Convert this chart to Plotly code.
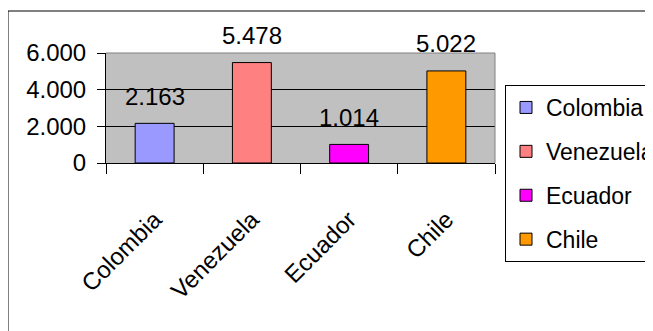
import plotly.graph_objects as go

countries = ["Colombia", "Venezuela", "Ecuador", "Chile"]
values = [2163, 5478, 1014, 5022]
colors = ["#9999FF", "#FF8080", "#FF00FF", "#FF9900"]
y_ticks = [0, 2000, 4000, 6000]

OFF = 8  # default page body margin
W, H = 653 - OFF, 331 - OFF
L, R, T, B = 106 - OFF, 495 - OFF, 53 - OFF, 163 - OFF   # plot area in px (figure coords)
pw, ph = R - L, B - T

def px_x(x):
    return (x - OFF - L) / pw

def px_y(y):
    return (B - (y - OFF)) / ph

FONT = "Liberation Sans, Arial, sans-serif"

fig = go.Figure()
for c, v, col in zip(countries, values, colors):
    fig.add_trace(go.Bar(
        x=[c], y=[v], name=c, width=0.4,
        marker=dict(color=col, line=dict(color="#000000", width=1)),
        legendgroup=c,
    ))

for c, v in zip(countries, values):
    fig.add_annotation(
        x=c, y=v, text=f"{v:,}".replace(",", "."), showarrow=False,
        yanchor="middle", yshift=27, font=dict(size=24, color="#000000", family=FONT),
    )

shapes = [
    dict(type="line", xref="paper", yref="paper", x0=0, x1=1, y0=1, y1=1,
         line=dict(color="#808080", width=1), layer="above"),
    dict(type="line", xref="paper", yref="paper", x0=1, x1=1, y0=0, y1=1,
         line=dict(color="#808080", width=1), layer="above"),
    dict(type="line", xref="paper", yref="paper", x0=px_x(8), x1=px_x(700), y0=px_y(11), y1=px_y(11),
         line=dict(color="#000000", width=1)),
    dict(type="line", xref="paper", yref="paper", x0=px_x(8), x1=px_x(8), y0=px_y(11), y1=px_y(400),
         line=dict(color="#000000", width=1)),
]

fig.update_layout(
    width=W, height=H,
    margin=dict(l=L, r=W - R, t=T, b=H - B, autoexpand=False),
    paper_bgcolor="#FFFFFF",
    plot_bgcolor="#C0C0C0",
    separators=",.",
    barmode="overlay",
    font=dict(family=FONT, size=24, color="#000000"),
    showlegend=True,
    legend=dict(
        x=px_x(505), y=px_y(85), xanchor="left", yanchor="top",
        bgcolor="#FFFFFF", bordercolor="#000000", borderwidth=1,
        font=dict(size=23, family=FONT, color="#000000"),
        traceorder="grouped", tracegroupgap=11, maxheight=300,
    ),
    shapes=shapes,
    xaxis=dict(
        categoryorder="array", categoryarray=countries,
        showline=True, linecolor="#000000", linewidth=1,
        ticks="outside", tickson="boundaries", ticklen=10, tickcolor="#000000",
        tickangle=-45, showgrid=False, ticklabelstandoff=32,
        tickfont=dict(size=24),
    ),
    yaxis=dict(
        range=[0, 6000], tickvals=y_ticks, tickformat=",d",
        showline=True, linecolor="#000000", linewidth=1,
        ticks="outside", ticklen=8, tickcolor="#000000",
        showgrid=True, gridcolor="#000000", gridwidth=1,
        zeroline=False, ticklabelstandoff=6,
        tickfont=dict(size=24),
    ),
)

fig.write_html("out.html")
